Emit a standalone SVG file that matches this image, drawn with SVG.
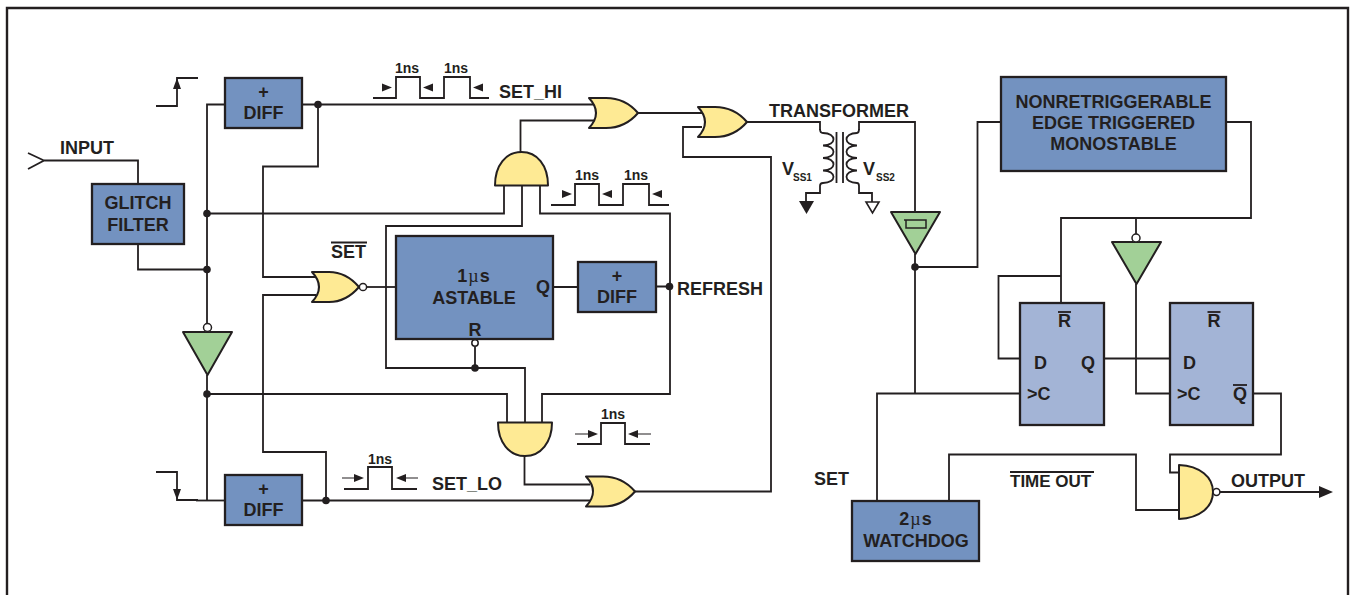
<svg xmlns="http://www.w3.org/2000/svg" width="1351" height="595" viewBox="0 0 1351 595">
<style>
text{font-family:"Liberation Sans",Arial,sans-serif;font-weight:700;font-size:18px;fill:#231f20}
.m{text-anchor:middle}
.s{font-size:14px}
.ss{font-size:10px}
.mu{font-family:"Liberation Serif",serif;font-weight:400}
.w{fill:none;stroke:#231f20;stroke-width:1.8}
.o{stroke:#231f20;stroke-width:1.8;fill:none}
.b{fill:#7392c0;stroke:#231f20;stroke-width:2.3}
.f{fill:#a3b4d6;stroke:#231f20;stroke-width:2.300}
.g{fill:#a2d097;stroke:#231f20;stroke-width:2;stroke-linejoin:round}
.y{fill:#feea94;stroke:#231f20;stroke-width:2;stroke-linejoin:round}
.c{fill:#fff;stroke:#231f20;stroke-width:1.5}
.d{fill:#231f20}
.k{fill:#231f20;stroke:none}
</style>
<defs>
<path id="orshape" d="M0,0H17C33,0 43,8 49,15C43,22 33,30 17,30H0Q14,15 0,0Z"/>
<circle id="dot" r="3.8"/>
<path id="hr" d="M0,0L-10,-4V4Z"/>
<path id="hl" d="M0,0L10,-4V4Z"/>
</defs>
<path d="M7,595V8H1348V595" fill="none" stroke="#231f20" stroke-width="2.4"/>

<g id="connectors" class="w">
<path d="M28,153L44,160.500L28,169M44,160.500H138V184"/>
<path d="M138,244V269.500H207"/>
<path d="M225,104.500H207V327"/>
<path d="M207,213.500H504V185.500"/>
<path d="M207,375V500.500"/>
<path d="M207,394H507V422.500"/>
<path d="M196,500.500H225"/>
<path d="M302,104.500H594"/>
<path d="M318,104.500V166.500H263V277H316"/>
<path d="M316,295H263V452H326V500.500"/>
<path d="M302,500.500H591"/>
<path d="M366,287H396"/>
<path d="M522,185.500V226H386V368H525V422.500"/>
<path d="M475,347V368"/>
<path d="M540,185.500V213.500H670V394H542V422.500"/>
<path d="M553,287H578M656,286.500H670"/>
<path d="M520.500,152V120.500H594"/>
<path d="M638,113H703"/>
<path d="M702,127H683V157H771V491.500H634"/>
<path d="M524.500,456V484.500H590"/>
<path d="M747,122H820V130"/>
<path d="M859,130V122H915V212"/>
<path d="M915,254V393.500"/>
<path d="M915,267H977.500V122H1001"/>
<path d="M1226,122H1251V218H1061V303"/>
<path d="M1061,276H998.500V358.500H1020"/>
<path d="M1136,218V234"/>
<path d="M1136,284V393.500H1170"/>
<path d="M1104,358.500H1170"/>
<path d="M877,501V393.500H1020"/>
<path d="M1253,393.500H1281V454.500H1170V472.500H1179"/>
<path d="M949,501V454.500H1136V510H1179"/>
<path d="M1220,492H1322"/>
<path class="k" d="M1333,492L1319,486V498Z"/>
<g class="d" style="stroke:none">
<use href="#dot" x="207" y="269.500"/>
<use href="#dot" x="207" y="213.500"/>
<use href="#dot" x="207" y="394"/>
<use href="#dot" x="318" y="104.500"/>
<use href="#dot" x="326" y="500.500"/>
<use href="#dot" x="475" y="368"/>
<use href="#dot" x="669.500" y="286.500"/>
<use href="#dot" x="915" y="267"/>
</g>
</g>

<g id="step-up" class="w"><path d="M156,106H177V78H198"/><path class="k" d="M177,78L173,89H181Z"/></g>
<g id="step-down" class="w"><path d="M156,472H177V500H198"/><path class="k" d="M177,500L173,489H181Z"/></g>

<g id="pulse-set-hi">
<path class="w" d="M373,98H396V77H420V98H444V77H470V98H489"/>
<use class="k" href="#hr" transform="translate(392,87.500)"/>
<use class="k" href="#hl" transform="translate(423,87.500)"/>
<use class="k" href="#hl" transform="translate(473,87.500)"/>
<text class="s m" x="407" y="73">1ns</text><text class="s m" x="456" y="73">1ns</text>
<text x="499" y="97.500">SET_HI</text>
</g>
<g id="pulse-refresh">
<path class="w" d="M551,205H575V184H599V205H623V184H649V205H669"/>
<use class="k" href="#hr" transform="translate(572,194)"/>
<use class="k" href="#hl" transform="translate(602,194)"/>
<use class="k" href="#hl" transform="translate(652,194)"/>
<text class="s m" x="587" y="180">1ns</text><text class="s m" x="636" y="180">1ns</text>
</g>
<g id="pulse-mid">
<path class="w" d="M577,444H601V423H625V444H650"/>
<path class="w" style="stroke-width:1.200" d="M575,434H592M651,434H634"/>
<use class="k" href="#hr" transform="translate(598,434)"/>
<use class="k" href="#hl" transform="translate(628,434)"/>
<text class="s m" x="613" y="419">1ns</text>
</g>
<g id="pulse-set-lo">
<path class="w" d="M344,489H368V467H392V489H417"/>
<path class="w" style="stroke-width:1.200" d="M342,478H358M418,478H402"/>
<use class="k" href="#hr" transform="translate(364,478)"/>
<use class="k" href="#hl" transform="translate(396,478)"/>
<text class="s m" x="380" y="464">1ns</text>
<text x="432" y="490">SET_LO</text>
</g>

<g id="input-label"><text x="60" y="154">INPUT</text></g>
<g id="glitch-filter"><rect class="b" x="92" y="184" width="92" height="60"/><text class="m" x="138" y="209">GLITCH</text><text class="m" x="138" y="231">FILTER</text></g>
<g id="diff-hi"><rect class="b" x="225" y="78" width="77" height="50"/><text class="m" x="263.500" y="98">+</text><text class="m" x="263.500" y="119">DIFF</text></g>
<g id="diff-lo"><rect class="b" x="225" y="475" width="77" height="50"/><text class="m" x="263.500" y="495">+</text><text class="m" x="263.500" y="516">DIFF</text></g>
<g id="diff-refresh"><rect class="b" x="578" y="262" width="78" height="50"/><text class="m" x="617" y="282">+</text><text class="m" x="617" y="303">DIFF</text></g>
<g id="refresh-label"><text x="677" y="294.500">REFRESH</text></g>

<g id="inverter-left"><path class="g" d="M183,332H232L207.500,375Z"/><circle class="c" cx="207.500" cy="327.500" r="4"/></g>
<g id="nor-set"><path class="y" d="M312,272H329C343,272 353,280 359,287C353,294 343,302 329,302H312Q326,287 312,272Z"/><circle class="c" cx="363" cy="287" r="3.600"/>
<text x="331" y="257.500">SET</text><line class="o" x1="331" y1="242.500" x2="367" y2="242.500"/></g>
<g id="astable"><rect class="b" x="396" y="236" width="157" height="103"/>
<text class="m" x="474" y="282" style="letter-spacing:1px">1<tspan class="mu">µ</tspan>s</text><text class="m" x="474" y="304">ASTABLE</text><text x="536" y="292.500">Q</text><text class="m" x="475" y="336">R</text>
<circle class="c" cx="475" cy="343" r="3.200"/></g>
<g id="and-top"><path class="y" d="M495,185.500H548C548,165 537,152 521.500,152C506,152 495,165 495,185.500Z"/></g>
<g id="and-bottom"><path class="y" d="M498,422.500H552C552,442 541,456 525,456C509,456 498,442 498,422.500Z"/></g>
<g id="or-hi"><use class="y" href="#orshape" x="589" y="98"/></g>
<g id="or-lo"><use class="y" href="#orshape" x="586" y="476.500"/></g>
<g id="or-out"><use class="y" href="#orshape" x="698" y="107"/></g>

<g id="transformer">
<text x="769" y="116.500">TRANSFORMER</text>
<path class="o" d="M820,129Q820,133 823,133c14,0 14,12.500 0,12.500c14,0 14,12.500 0,12.500c14,0 14,12.500 0,12.500c14,0 14,12.500 0,12.500Q820,183 820,186V193H806V202"/>
<path class="o" d="M859,129Q859,133 857,133c-14,0 -14,12.500 0,12.500c-14,0 -14,12.500 0,12.500c-14,0 -14,12.500 0,12.500c-14,0 -14,12.500 0,12.500Q859,183 859,186V193H872V202"/>
<path class="o" d="M836.500,132V183M843,132V183"/>
<path class="k" d="M799,201H814L806.500,214Z"/>
<path class="c" style="stroke-width:1.600" d="M866,202H879L872.500,213Z"/>
<text x="782" y="175">V</text><text class="ss" x="793" y="181">SS1</text>
<text x="863" y="175">V</text><text class="ss" x="876" y="181">SS2</text>
</g>
<g id="receiver"><path class="g" d="M891,212H940L915.500,254Z"/><path class="o" style="stroke-width:1.500" d="M904,220H926V228H906V220"/></g>
<g id="monostable"><rect class="b" x="1001" y="77" width="225" height="94"/><text class="m" x="1113.500" y="108">NONRETRIGGERABLE</text><text class="m" x="1113.500" y="129">EDGE TRIGGERED</text><text class="m" x="1113.500" y="150">MONOSTABLE</text></g>
<g id="inverter-right"><path class="g" d="M1112,242H1161L1136.500,284Z"/><circle class="c" cx="1136" cy="238" r="4"/></g>
<g id="ff1"><rect class="f" x="1020" y="303" width="84" height="122"/>
<text class="m" x="1064.500" y="327">R</text><line class="o" x1="1058" y1="312" x2="1071" y2="312"/>
<text x="1034" y="369">D</text><text x="1081" y="369">Q</text><text x="1027" y="400">&gt;C</text></g>
<g id="ff2"><rect class="f" x="1170" y="303" width="83" height="122"/>
<text class="m" x="1214" y="327">R</text><line class="o" x1="1207.500" y1="312" x2="1220.500" y2="312"/>
<text x="1183" y="369">D</text><text x="1177" y="400">&gt;C</text><text x="1233" y="400">Q</text><line class="o" x1="1233" y1="385" x2="1247" y2="385"/></g>
<g id="watchdog"><rect class="b" x="852" y="501" width="127" height="60"/><text class="m" x="916" y="525" style="letter-spacing:1px">2<tspan class="mu">µ</tspan>s</text><text class="m" x="916" y="547">WATCHDOG</text></g>
<g id="set-label"><text x="814" y="484.500">SET</text></g>
<g id="timeout-label"><text x="1010" y="487" style="font-size:17px">TIME OUT</text><line class="o" x1="1010" y1="472" x2="1094" y2="472"/></g>
<g id="nand-out"><path class="y" d="M1179,465C1200,466 1213,477 1213,492C1213,507 1200,518 1179,519Z"/><circle class="c" cx="1216.500" cy="492" r="3.400"/><text x="1231" y="487">OUTPUT</text></g>
</svg>
